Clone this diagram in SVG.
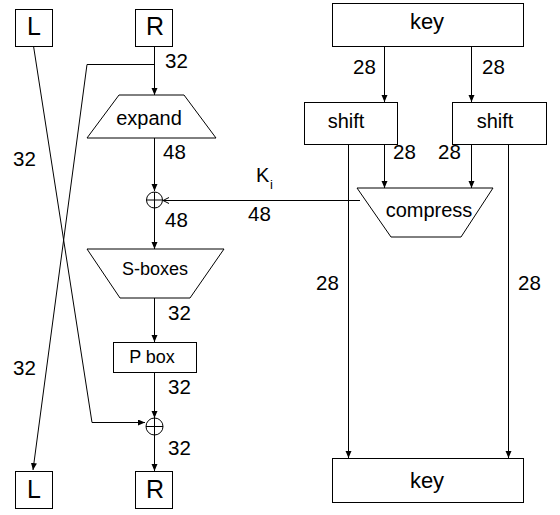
<svg xmlns="http://www.w3.org/2000/svg" width="560" height="515" viewBox="0 0 560 515">
<style>
.s{fill:#fff;stroke:#000;stroke-width:1}
.c{fill:none;stroke:#000;stroke-width:1}
text{font-family:"Liberation Sans",Arial,sans-serif;fill:#000}
.t{font-size:20px;text-anchor:middle}
.lr{font-size:25px;text-anchor:middle}
.lb{font-size:20.5px}
.big{font-size:22px;text-anchor:middle}
.sm{font-size:18px;text-anchor:middle}
</style>
<defs>
<marker id="a" markerUnits="userSpaceOnUse" markerWidth="8" markerHeight="8" refX="7" refY="3" orient="auto">
<path d="M0,0 L7,3 L0,6 z" fill="#000"/>
</marker>
<marker id="o" markerUnits="userSpaceOnUse" markerWidth="8" markerHeight="8" refX="6" refY="3" orient="auto">
<path d="M0,0 L6,3 L0,6" fill="none" stroke="#000" stroke-width="1"/>
</marker>
</defs>
<g id="connectors" class="c">
<line x1="154.5" y1="46" x2="154.5" y2="95" marker-end="url(#a)"/>
<polyline points="154.5,64.5 87,64.5 33,470" marker-end="url(#a)"/>
<polyline points="33.5,46 92,422.5 145,422.5" marker-end="url(#a)"/>
<line x1="154.5" y1="138" x2="154.5" y2="191" marker-end="url(#a)"/>
<line x1="360" y1="200.5" x2="163" y2="200.5" marker-end="url(#o)"/>
<line x1="154.5" y1="208" x2="154.5" y2="249" marker-end="url(#a)"/>
<line x1="154.5" y1="298" x2="154.5" y2="342" marker-end="url(#a)"/>
<line x1="154.5" y1="372" x2="154.5" y2="418" marker-end="url(#a)"/>
<line x1="154.5" y1="435" x2="154.5" y2="471" marker-end="url(#a)"/>
<line x1="384.5" y1="46" x2="384.5" y2="102" marker-end="url(#a)"/>
<line x1="471.5" y1="46" x2="471.5" y2="102" marker-end="url(#a)"/>
<line x1="384.5" y1="144" x2="384.5" y2="188" marker-end="url(#a)"/>
<line x1="471.5" y1="144" x2="471.5" y2="188" marker-end="url(#a)"/>
<line x1="348.5" y1="144" x2="348.5" y2="458" marker-end="url(#a)"/>
<line x1="508.5" y1="144" x2="508.5" y2="458" marker-end="url(#a)"/>
</g>
<g id="labels">
<text class="lb" x="165" y="68">32</text>
<text class="lb" x="13" y="166">32</text>
<text class="lb" x="13" y="375">32</text>
<text class="lb" x="163" y="159">48</text>
<text class="lb" x="165" y="227">48</text>
<text class="lb" x="248" y="221">48</text>
<text class="lb" x="168" y="320">32</text>
<text class="lb" x="168" y="394">32</text>
<text class="lb" x="168" y="455">32</text>
<text class="lb" x="353" y="74">28</text>
<text class="lb" x="482" y="74">28</text>
<text class="lb" x="393" y="159">28</text>
<text class="lb" x="438" y="159">28</text>
<text class="lb" x="316" y="290">28</text>
<text class="lb" x="518" y="290">28</text>
<text x="256" y="182" font-size="20">K</text>
<text x="270" y="189" font-size="13">i</text>
</g>
<g id="L-top"><rect class="s" x="15.5" y="9.5" width="37" height="37"/><text class="lr" x="34" y="35">L</text></g>
<g id="R-top"><rect class="s" x="135.5" y="9.5" width="37" height="37"/><text class="lr" x="155" y="35">R</text></g>
<g id="expand"><polygon class="s" points="119,95 184,95 216,138 87,138"/><text class="t" x="149" y="125">expand</text></g>
<g id="xor1"><circle class="s" cx="154.5" cy="200" r="8"/><path class="c" d="M146.5,200 H162.5 M154.5,192 V208"/></g>
<g id="sboxes"><polygon class="s" points="87,249 224,249 190,298 120,298"/><text class="sm" x="155" y="275">S-boxes</text></g>
<g id="pbox"><rect class="s" x="113.5" y="342.5" width="83" height="30"/><text class="sm" x="152" y="363">P box</text></g>
<g id="xor2"><circle class="s" cx="154.5" cy="426.5" r="8.5"/><path class="c" d="M146,426.5 H163 M154.5,418 V435"/></g>
<g id="L-bot"><rect class="s" x="15.5" y="471.5" width="37" height="37"/><text class="lr" x="34" y="498">L</text></g>
<g id="R-bot"><rect class="s" x="135.5" y="471.5" width="37" height="37"/><text class="lr" x="155" y="498">R</text></g>
<g id="key-top"><rect class="s" x="332.5" y="3.5" width="191" height="43"/><text class="big" x="427" y="29">key</text></g>
<g id="shift-left"><rect class="s" x="304.5" y="102.5" width="93" height="42"/><text class="t" x="346" y="128">shift</text></g>
<g id="shift-right"><rect class="s" x="452.5" y="102.5" width="94" height="42"/><text class="t" x="495" y="128">shift</text></g>
<g id="compress"><polygon class="s" points="357,188 493,188 461,237 391,237"/><text class="t" x="429" y="217">compress</text></g>
<g id="key-bot"><rect class="s" x="332.5" y="458.5" width="191" height="44"/><text class="big" x="427" y="488" font-size="23">key</text></g>
</svg>
